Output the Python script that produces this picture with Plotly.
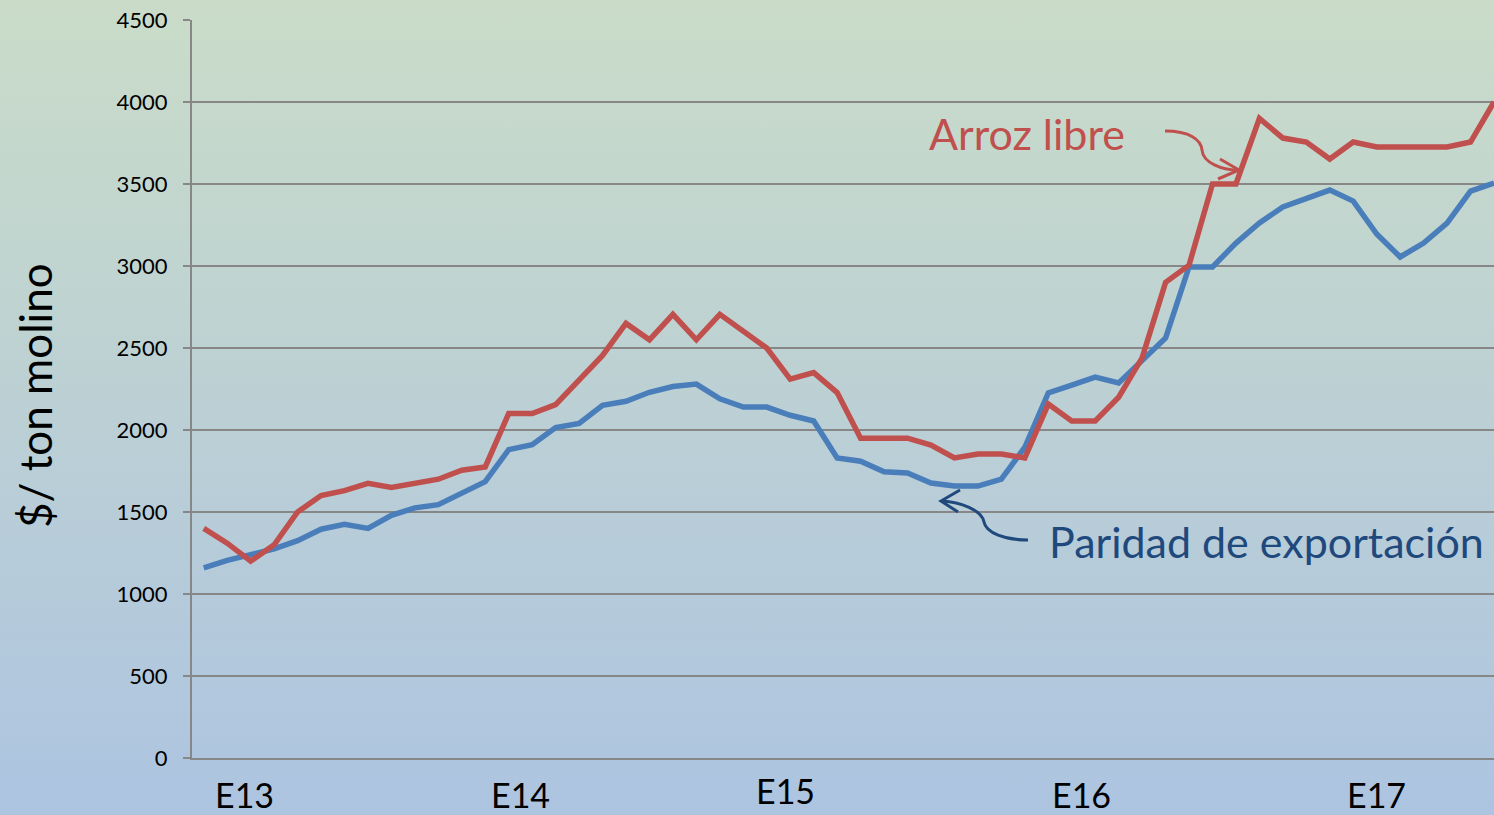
import base64
import plotly.graph_objects as go

# ---- data ----
months = list(range(56))
arroz_libre = [1400, 1310, 1200, 1300, 1500, 1600, 1630, 1675, 1650, 1675,
               1700, 1755, 1775, 2100, 2100, 2155, 2305, 2455, 2650, 2550,
               2705, 2550, 2705, 2600, 2500, 2310, 2350, 2228, 1950, 1950,
               1950, 1908, 1830, 1854, 1854, 1830, 2158, 2055, 2055, 2200,
               2440, 2900, 3005, 3500, 3500, 3900, 3780, 3756, 3652, 3756,
               3726, 3726, 3726, 3726, 3756, 4000]
paridad_export = [1160, 1205, 1240, 1275, 1325, 1395, 1425, 1400, 1480, 1525,
                  1545, 1615, 1685, 1880, 1910, 2015, 2040, 2150, 2175, 2230,
                  2265, 2280, 2190, 2140, 2140, 2090, 2055, 1830, 1810, 1745,
                  1738, 1677, 1658, 1658, 1700, 1895, 2226, 2274, 2323, 2287,
                  2427, 2561, 2994, 2994, 3140, 3262, 3360, 3415, 3463, 3396,
                  3195, 3055, 3140, 3262, 3457, 3506]
year_labels = ["E13", "E14", "E15", "E16", "E17"]
year_label_pos = [1.75, 13.5, 24.8, 37.4, 50.0]
y_title = "$/ ton molino"
name_red = "Arroz libre"
name_blue = "Paridad de exportación"

# ---- geometry helpers (pixel -> paper) ----
W, H = 1494, 815
L, R, T, B = 192, 1494, 20, 758
PW, PH = R - L, B - T


def px(x):
    return (x - L) / PW


def py(y):
    return (B - y) / PH


def path(cmds):
    out = []
    for c in cmds:
        if isinstance(c, str):
            out.append(c)
        else:
            out.append(f"{px(c[0]):.5f},{py(c[1]):.5f}")
    return " ".join(out)


RED = "#c0504d"
BLUE = "#4a7ebb"
DARKBLUE = "#1f497d"
GRID = "#878787"

svg = (f"<svg xmlns='http://www.w3.org/2000/svg' width='{W}' height='{H}' "
       f"viewBox='0 0 {W} {H}' preserveAspectRatio='none'><defs>"
       "<linearGradient id='g' x1='0' y1='0' x2='0' y2='1'>"
       "<stop offset='0' stop-color='#cadcc8'/>"
       "<stop offset='1' stop-color='#adc4e1'/>"
       "</linearGradient></defs>"
       f"<rect x='0' y='0' width='{W}' height='{H}' fill='url(#g)'/></svg>")
svg_uri = "data:image/svg+xml;base64," + base64.b64encode(svg.encode()).decode()

fig = go.Figure()
fig.add_trace(go.Scatter(x=months, y=paridad_export, mode="lines",
                         line=dict(color=BLUE, width=5.5), name=name_blue,
                         showlegend=False))
fig.add_trace(go.Scatter(x=months, y=arroz_libre, mode="lines",
                         line=dict(color=RED, width=5.5), name=name_red,
                         showlegend=False))

annotations = []
for lab, pos, yy in zip(year_labels, year_label_pos, [794, 794, 790, 794, 794]):
    annotations.append(dict(x=pos, xref="x", y=py(yy), yref="paper", text=lab,
                            showarrow=False, xanchor="center", yanchor="middle",
                            font=dict(family="Lato", size=34, color="#000000")))
annotations.append(dict(x=px(35), y=py(396), xref="paper", yref="paper",
                        text=y_title, textangle=-90, showarrow=False,
                        xanchor="center", yanchor="middle",
                        font=dict(family="Lato", size=44, color="#000000")))
annotations.append(dict(x=px(927), y=py(133), xref="paper", yref="paper",
                        text=name_red, showarrow=False, xanchor="left",
                        yanchor="middle",
                        font=dict(family="Lato", size=43, color=RED)))
annotations.append(dict(x=px(1047), y=py(541), xref="paper", yref="paper",
                        text=name_blue, showarrow=False, xanchor="left",
                        yanchor="middle",
                        font=dict(family="Lato", size=43, color=DARKBLUE)))

shapes = [
    dict(type="path", xref="paper", yref="paper",
         path=path(["M", (1165, 131), "C", (1190, 131), (1201, 140), (1202, 150),
                    "C", (1203, 163), (1222, 170), (1238, 170)]),
         line=dict(color=RED, width=3)),
    dict(type="path", xref="paper", yref="paper",
         path=path(["M", (1220, 159), "L", (1239, 170), "L", (1218, 179)]),
         line=dict(color=RED, width=3)),
    dict(type="path", xref="paper", yref="paper",
         path=path(["M", (1028, 540), "C", (1005, 540), (986, 533), (984, 522),
                    "C", (982, 510), (960, 502), (942, 501)]),
         line=dict(color=DARKBLUE, width=3)),
    dict(type="path", xref="paper", yref="paper",
         path=path(["M", (960, 490), "L", (941, 501), "L", (958, 512)]),
         line=dict(color=DARKBLUE, width=3)),
]

fig.update_layout(
    width=W, height=H,
    margin=dict(l=L, r=W - R, t=T, b=H - B, pad=0),
    paper_bgcolor="#bccfd5",
    plot_bgcolor="rgba(0,0,0,0)",
    images=[dict(source=svg_uri, xref="paper", yref="paper",
                 x=-L / PW, y=1 + T / PH, sizex=W / PW, sizey=H / PH,
                 xanchor="left", yanchor="top", sizing="stretch",
                 layer="below")],
    xaxis=dict(range=[-0.5, 55], showgrid=False, zeroline=False,
               showticklabels=False, ticks="", showline=True,
               linecolor=GRID, linewidth=2),
    yaxis=dict(range=[0, 4500], dtick=500, tick0=0, showgrid=True,
               gridcolor=GRID, gridwidth=2, zeroline=False, showline=True,
               linecolor=GRID, linewidth=2, ticks="outside", ticklen=7,
               tickwidth=2, tickcolor=GRID, ticklabelstandoff=11,
               tickfont=dict(family="Lato", size=22, color="#000000")),
    annotations=annotations,
    shapes=shapes,
    showlegend=False,
)

fig.write_html("out.html", config={"displayModeBar": False},
               post_script="document.body.style.margin='0px';"
                           "document.body.style.overflow='hidden';")
